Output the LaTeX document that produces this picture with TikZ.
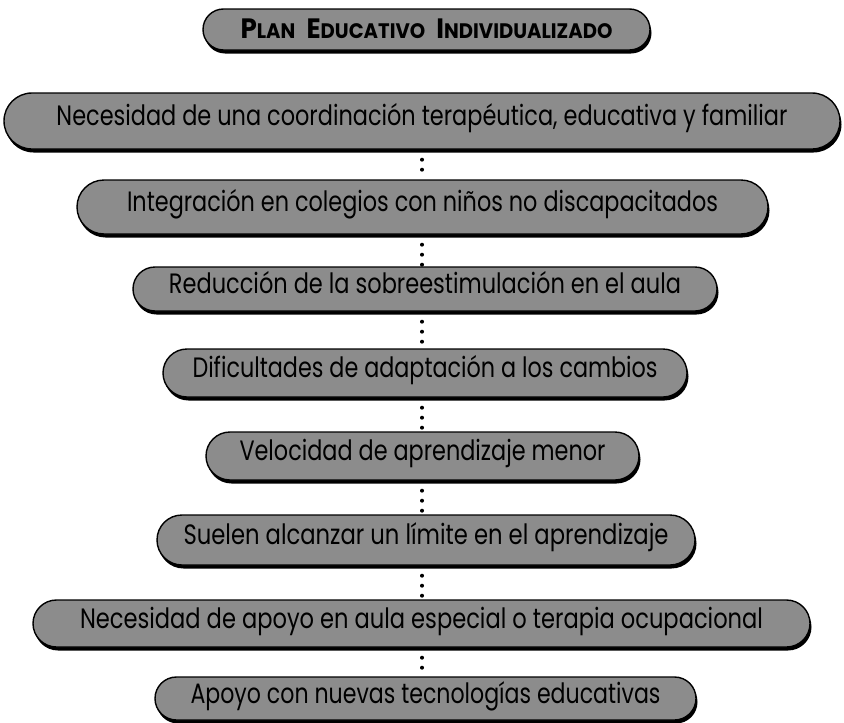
\documentclass[tikz,border=0pt]{standalone}
\usepackage{fontspec}
\setmainfont{Poppins}
\usetikzlibrary{shapes.misc,shadows,backgrounds}
\newsavebox\fitbox
\newcommand\fitw[2]{\sbox\fitbox{#2}\pgfmathsetmacro\fitfac{#1/\the\wd\fitbox}\scalebox{\fitfac}[1]{\usebox\fitbox}}
\newcommand\bgc[1]{{\fontsize{28}{30}\selectfont #1}}
\newcommand\smc[1]{{\fontsize{21}{24}\selectfont #1}}
\begin{document}
\begin{tikzpicture}[x=1pt,y=-1pt,
  pill/.style={rounded rectangle, draw=black, line width=1.4pt, fill=black!45,
    inner sep=0pt, text height=15pt, text depth=6pt, text=black,
    drop shadow={shadow xshift=1.5pt, shadow yshift=-3.5pt, fill=black, opacity=1},
    font=\fontsize{28}{32}\selectfont},
  titlepill/.style={pill, text height=20pt, text depth=3pt, font=\bfseries},
  dotline/.style={line width=4pt, line cap=round, dash pattern=on 0pt off 10pt}]
\useasboundingbox (0,0) rectangle (844,723);
\node[titlepill, minimum width=447pt, minimum height=41pt] (t) at (426.5,29.5)
  {\fitw{372}{\bfseries\bgc{P}\smc{LAN}\hspace{12pt}\bgc{E}\smc{DUCATIVO}\hspace{12pt}\bgc{I}\smc{NDIVIDUALIZADO}}};
\node[pill, minimum width=836pt, minimum height=56pt] (b1) at (422,121)
  {\fitw{731}{Necesidad de una coordinación terapéutica, educativa y familiar}};
\node[pill, minimum width=691pt, minimum height=54pt] (b2) at (422.5,207)
  {\fitw{591}{Integración en colegios con niños no discapacitados}};
\node[pill, minimum width=584pt, minimum height=44pt] (b3) at (425,289)
  {\fitw{512}{Reducción de la sobreestimulación en el aula}};
\node[pill, minimum width=524pt, minimum height=48pt] (b4) at (425,373)
  {\fitw{465}{Dificultades de adaptación a los cambios}};
\node[pill, minimum width=433pt, minimum height=48pt] (b5) at (422.5,456)
  {\fitw{366}{Velocidad de aprendizaje menor}};
\node[pill, minimum width=538pt, minimum height=50pt] (b6) at (426,540)
  {\fitw{485}{Suelen alcanzar un límite en el aprendizaje}};
\node[pill, minimum width=777pt, minimum height=47pt] (b7) at (421.5,623.5)
  {\fitw{683}{Necesidad de apoyo en aula especial o terapia ocupacional}};
\node[pill, minimum width=541pt, minimum height=43pt] (b8) at (425.5,698.5)
  {\fitw{470}{Apoyo con nuevas tecnologías educativas}};
\begin{scope}[on background layer]
\draw[dotline] (b1.south -| 422,0) -- (b2.north -| 422,0);
\draw[dotline] (b2.south -| 422,0) -- (b3.north -| 422,0);
\draw[dotline] (b3.south -| 422,0) -- (b4.north -| 422,0);
\draw[dotline] (b4.south -| 422,0) -- (b5.north -| 422,0);
\draw[dotline] (b5.south -| 422,0) -- (b6.north -| 422,0);
\draw[dotline] (b6.south -| 422,0) -- (b7.north -| 422,0);
\draw[dotline] (b7.south -| 422,0) -- (b8.north -| 422,0);
\end{scope}
\end{tikzpicture}
\end{document}
